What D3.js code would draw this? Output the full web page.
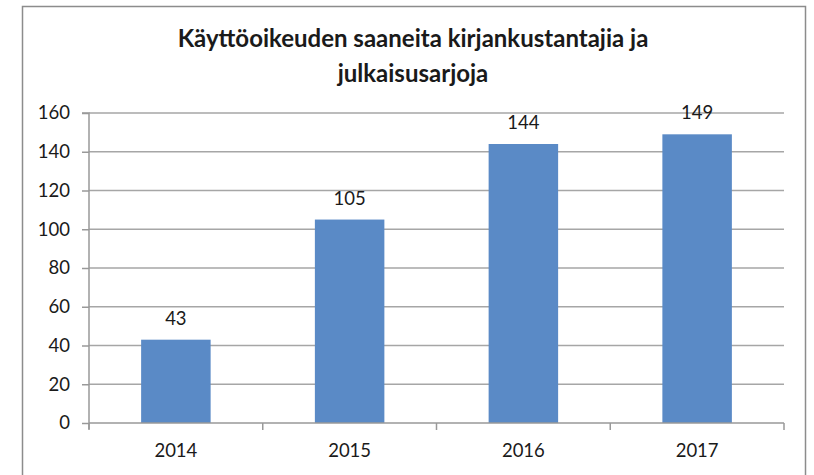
<!DOCTYPE html>
<html>
<head>
<meta charset="utf-8">
<script src="https://cdn.jsdelivr.net/npm/d3@7"></script>
<style>
  body { margin: 0; background: #fff; }
  text { font-family: Lato, "Open Sans", sans-serif; fill: #1a1a1a; }
</style>
</head>
<body>
<div id="container"></div>
<script>
/* DATA */
const years = ["2014", "2015", "2016", "2017"];
const counts = [43, 105, 144, 149];
const yTicks = [0, 20, 40, 60, 80, 100, 120, 140, 160];
const titleLines = ["Käyttöoikeuden saaneita kirjankustantajia ja", "julkaisusarjoja"];

/* CONSTANTS */
const width = 814, height = 475;
const margin = { top: 113, bottom: 52, left: 89, right: 30 };

const svg = d3.select("#container")
  .append("svg")
  .attr("width", width)
  .attr("height", height);

// chart frame
svg.append("rect")
  .attr("x", 22.5).attr("y", 6.5)
  .attr("width", 783).attr("height", 500)
  .attr("fill", "none")
  .attr("stroke", "#8c8c8c")
  .attr("stroke-width", 1.5);

// title
svg.selectAll(".title")
  .data(titleLines)
  .join("text")
    .attr("class", "title")
    .attr("x", 413)
    .attr("y", (d, i) => 47 + i * 35)
    .attr("text-anchor", "middle")
    .attr("font-size", 24)
    .attr("font-weight", "bold")
    .text(d => d);

/* SCALES */
const xScale = d3.scaleBand()
  .domain(years)
  .range([margin.left, width - margin.right])
  .paddingInner(0.6)
  .paddingOuter(0.3);

const xBand = d3.scaleBand()
  .domain(years)
  .range([margin.left, width - margin.right]);

const yScale = d3.scaleLinear()
  .domain([0, 160])
  .range([height - margin.bottom, margin.top]);

// gridlines
svg.append("g")
  .selectAll("line")
  .data(yTicks.filter(d => d > 0))
  .join("line")
    .attr("x1", margin.left)
    .attr("x2", width - margin.right)
    .attr("y1", d => yScale(d))
    .attr("y2", d => yScale(d))
    .attr("stroke", "#a6a6a6")
    .attr("stroke-width", 1.5);

/* AXES */
const yAxis = d3.axisLeft(yScale)
  .tickValues(yTicks)
  .tickSize(7)
  .tickPadding(12);

svg.append("g")
  .attr("class", "y-axis")
  .attr("transform", `translate(${margin.left},0)`)
  .call(yAxis)
  .call(g => g.select(".domain").attr("stroke", "#999").attr("stroke-width", 1.5)
    .attr("d", `M-7,${yScale(160)}H0V${yScale(0) + 6}`))
  .call(g => g.selectAll(".tick line").attr("stroke", "#999").attr("stroke-width", 1.5))
  .call(g => g.selectAll(".tick text").attr("font-size", 18.5).attr("fill", "#1a1a1a")
    .attr("font-family", "Lato, sans-serif"));

// bars
svg.append("g")
  .selectAll("rect")
  .data(counts)
  .join("rect")
    .attr("x", (d, i) => xScale(years[i]))
    .attr("width", xScale.bandwidth())
    .attr("y", d => yScale(d))
    .attr("height", d => yScale(0) - yScale(d))
    .attr("fill", "#5a8ac6");

// x axis
const xAxisG = svg.append("g")
  .attr("class", "x-axis")
  .attr("transform", `translate(0,${yScale(0)})`);

xAxisG.append("line")
  .attr("x1", margin.left).attr("x2", width - margin.right)
  .attr("stroke", "#999").attr("stroke-width", 1.5);

const boundaries = years.map(y => xBand(y)).concat([width - margin.right]);
xAxisG.selectAll(".xtick")
  .data(boundaries)
  .join("line")
    .attr("class", "xtick")
    .attr("x1", d => d).attr("x2", d => d)
    .attr("y1", 0).attr("y2", 7)
    .attr("stroke", "#999").attr("stroke-width", 1.5);

xAxisG.selectAll(".xlabel")
  .data(years)
  .join("text")
    .attr("class", "xlabel")
    .attr("x", d => xBand(d) + xBand.bandwidth() / 2)
    .attr("y", 34)
    .attr("text-anchor", "middle")
    .attr("font-size", 18.5)
    .text(d => d);

// value labels
svg.append("g")
  .selectAll("text")
  .data(counts)
  .join("text")
    .attr("x", (d, i) => xScale(years[i]) + xScale.bandwidth() / 2)
    .attr("y", d => yScale(d) - 15)
    .attr("text-anchor", "middle")
    .attr("font-size", 18.5)
    .text(d => d);
</script>
</body>
</html>
